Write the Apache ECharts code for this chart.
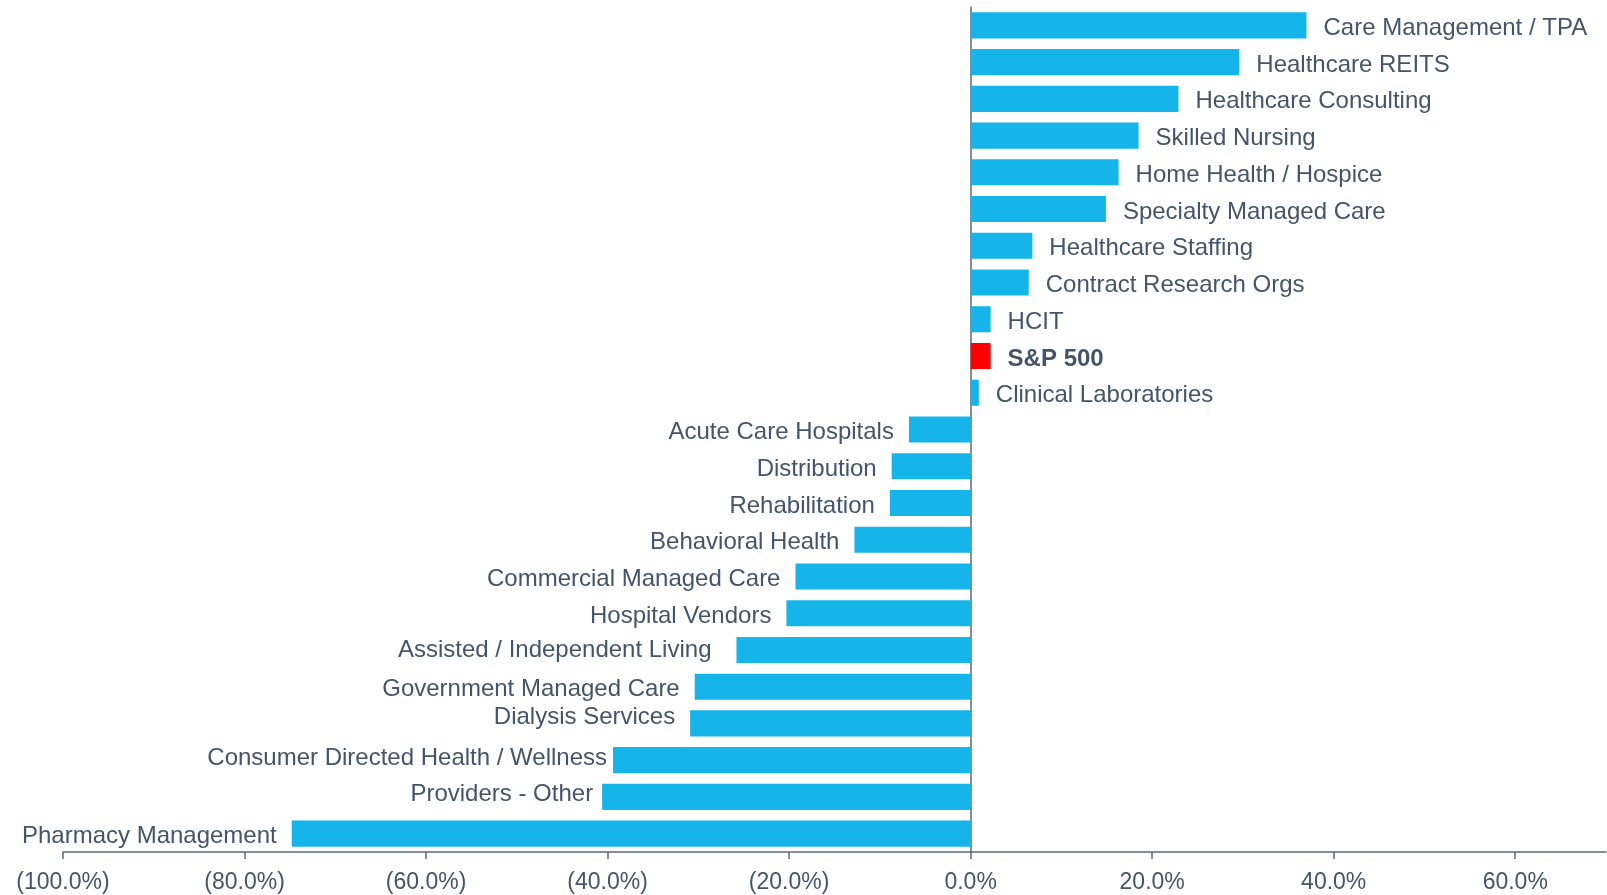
<!DOCTYPE html>
<html>
<head>
<meta charset="utf-8">
<script src="https://cdn.jsdelivr.net/npm/echarts@6/dist/echarts.min.js"></script>
<style>
  html,body{margin:0;padding:0;background:#fff;}
  #chart{width:1607px;height:895px;}
</style>
</head>
<body>
<div id="chart"></div>
<script>
// categories, top to bottom
const categories=[
  'Care Management / TPA','Healthcare REITS','Healthcare Consulting','Skilled Nursing',
  'Home Health / Hospice','Specialty Managed Care','Healthcare Staffing','Contract Research Orgs',
  'HCIT','S&P 500','Clinical Laboratories','Acute Care Hospitals','Distribution','Rehabilitation',
  'Behavioral Health','Commercial Managed Care','Hospital Vendors','Assisted / Independent Living',
  'Government Managed Care','Dialysis Services','Consumer Directed Health / Wellness',
  'Providers - Other','Pharmacy Management'
];
// % change
const values=[
  37.0,29.6,22.9,18.5,
  16.3,14.9,6.8,6.4,
  2.2,2.2,0.9,-6.8,-8.7,-8.9,
  -12.8,-19.3,-20.3,-25.8,
  -30.4,-30.9,-39.4,
  -40.6,-74.8
];
const tickValues=[-100,-80,-60,-40,-20,0,20,40,60];
const benchmark='S&P 500';

const textColor='#44546A';
const barColor='#15B4E9';
// labels in the original sit a little off their bars for a few items
const labelNudge={
  'Assisted / Independent Living':[-10,-3],
  'Dialysis Services':[0,-9],
  'Consumer Directed Health / Wellness':[9,-5],
  'Providers - Other':[6,-6]
};

const seriesData=values.map((v,i)=>{
  const name=categories[i];
  const isBench=name===benchmark;
  const n=labelNudge[name]||[0,0];
  return {
    value:v,
    itemStyle:{color:isBench?'#FF0000':barColor},
    label:{
      position:v<0?'left':'right',
      distance:v<0?15:17,
      fontWeight:isBench?'bold':'normal',
      offset:[n[0],3+n[1]]
    }
  };
});

const chart=echarts.init(document.getElementById('chart'));
chart.setOption({
  backgroundColor:'#fff',
  animation:false,
  grid:{left:63,right:1,top:7,bottom:43,outerBoundsMode:'none'},
  xAxis:{
    type:'value',min:-100,max:70,interval:20,
    axisLine:{show:true,lineStyle:{color:'#5B6977',width:1.5}},
    axisTick:{show:true,length:7,lineStyle:{color:'#5B6977',width:1.5},customValues:tickValues},
    splitLine:{show:false},
    axisLabel:{
      customValues:tickValues,
      margin:19,color:textColor,fontSize:23,fontFamily:'Liberation Sans, Arial, sans-serif',
      formatter:v=>v<0?'('+Math.abs(v).toFixed(1)+'%)':v.toFixed(1)+'%'
    }
  },
  yAxis:{
    type:'category',data:categories,inverse:true,
    axisLine:{show:true,onZero:true,lineStyle:{color:'#5B6977',width:1.5}},
    axisTick:{show:false},
    axisLabel:{show:false},
    splitLine:{show:false}
  },
  series:[{
    type:'bar',
    data:seriesData,
    barCategoryGap:'29%',
    label:{
      show:true,formatter:'{b}',
      color:textColor,fontSize:24,fontFamily:'Liberation Sans, Arial, sans-serif'
    }
  }]
});
</script>
</body>
</html>
